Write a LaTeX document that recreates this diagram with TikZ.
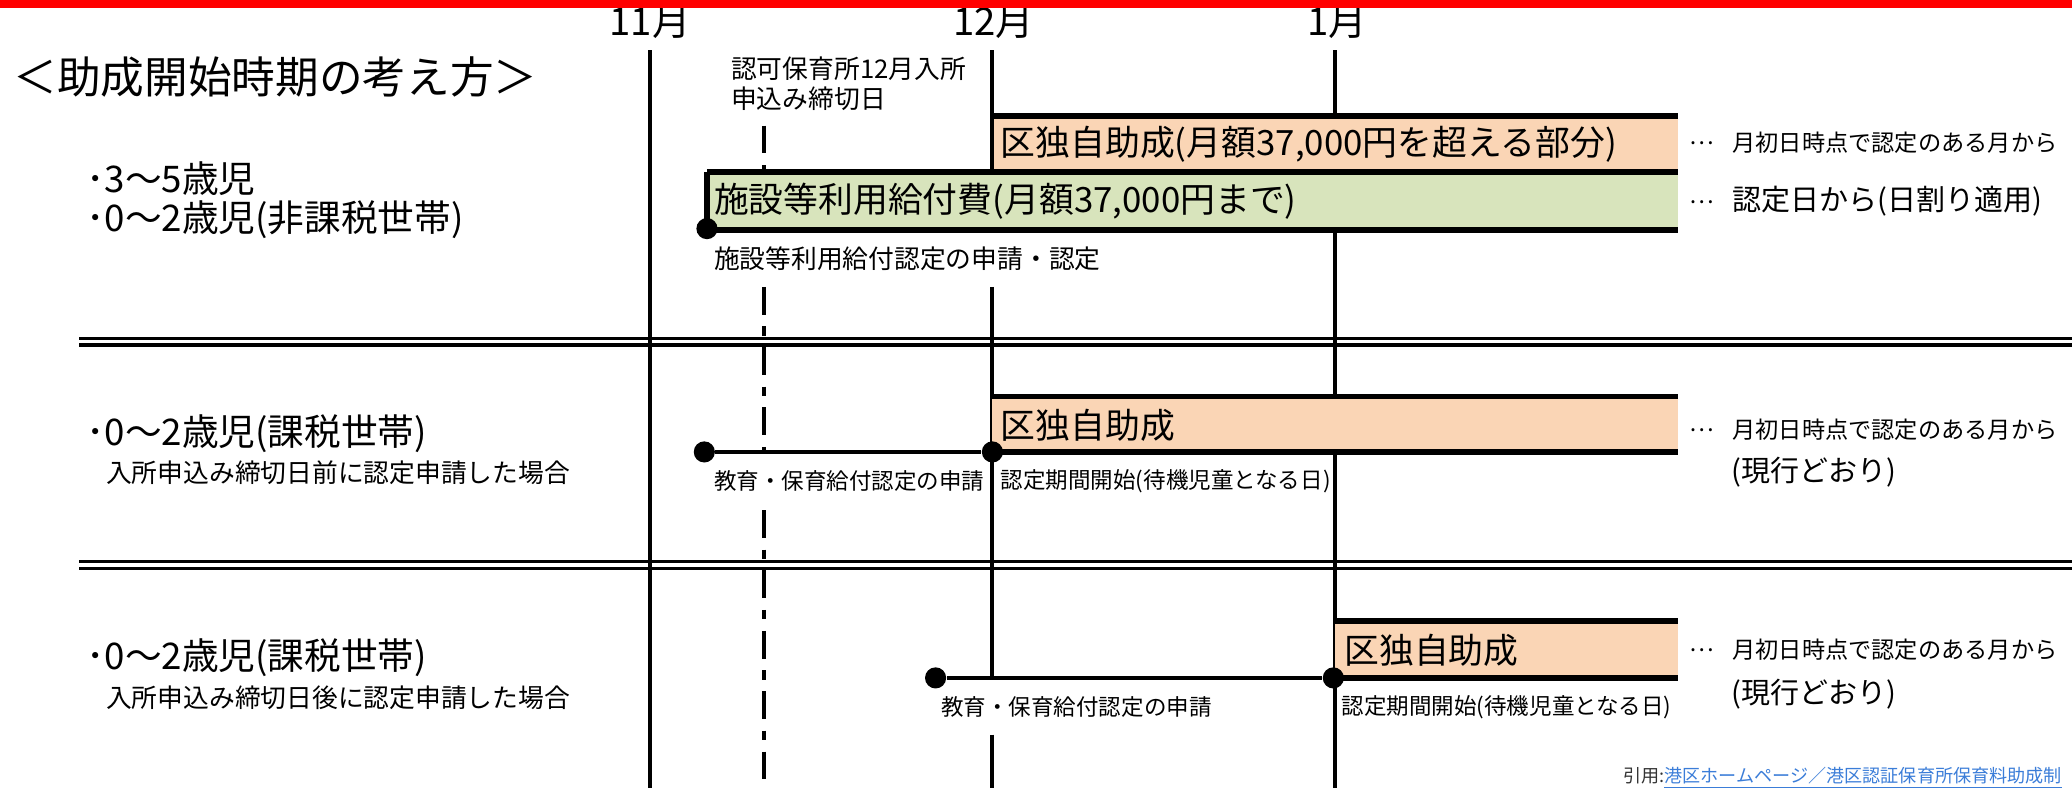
\documentclass[tikz,border=0pt]{standalone}
\usepackage{fontspec}
\setmainfont{Noto Sans CJK JP}
\definecolor{peach}{HTML}{FAD5B5}
\definecolor{sage}{HTML}{D8E4BC}
\definecolor{linkblue}{HTML}{3B7DD8}
\definecolor{citegray}{HTML}{333333}
\newcommand\fsTitle{\fontsize{18.8pt}{22pt}\selectfont}
\newcommand\fsMonth{\fontsize{16.5pt}{18pt}\selectfont}
\newcommand\fsLeft{\fontsize{15.8pt}{18pt}\selectfont}
\newcommand\fsSub{\fontsize{11.1pt}{13pt}\selectfont}
\newcommand\fsBox{\fontsize{15pt}{17pt}\selectfont}
\newcommand\fsLbl{\fontsize{11.1pt}{13pt}\selectfont}
\newcommand\fsLblS{\fontsize{9.7pt}{12pt}\selectfont}
\newcommand\fsAnnS{\fontsize{10pt}{12pt}\selectfont}
\newcommand\fsAnnB{\fontsize{12.5pt}{15pt}\selectfont}
\newcommand\fsCite{\fontsize{7.8pt}{9pt}\selectfont}
\newcommand\midell{\raisebox{0.3em}{…}}
\begin{document}
\begin{tikzpicture}[x=0.02cm,y=-0.02cm,
  vline/.style={line width=1.7pt},
  boxedge/.style={line width=2.5pt},
  hline/.style={line width=2pt},
  dline/.style={line width=1.4pt},
  deadline/.style={line width=1.7pt,dash pattern=on 12pt off 5pt on 4pt off 5pt},
  dot/.style={circle,fill=black,inner sep=0pt,minimum size=0.32cm},
  txt/.style={anchor=west,inner sep=0pt},
  month/.style={anchor=center,inner sep=0pt,font=\fsMonth}]
\useasboundingbox (0,0) rectangle (1568,596);
% ---- vertical month lines
\coordinate (a11) at (492,38); \coordinate (b11) at (492,596);
\draw[vline] (a11) -- (b11);
\coordinate (a12) at (751,38); \coordinate (c12) at (751,174);
\coordinate (d12) at (751,217); \coordinate (e12) at (751,513);
\coordinate (f12) at (751,556); \coordinate (b12) at (751,596);
\draw[vline] (a12) -- (c12) (d12) -- (e12) (f12) -- (b12);
\coordinate (a1) at (1010,38); \coordinate (b1) at (1010,596);
\draw[vline] (a1) -- (b1);
% ---- deadline (dash-dot)
\coordinate (ka) at (578,95); \coordinate (kb) at (578,174);
\coordinate (kc) at (578,217); \coordinate (kd) at (578,342);
\coordinate (ke) at (578,386); \coordinate (kf) at (578,596);
\draw[deadline] (ka) -- (kb) (kc) -- (kd) (ke) -- (kf);
% ---- section separators (double lines)
\draw[dline] (60,256) -- (1568,256);
\draw[dline] (60,261) -- (1568,261);
\draw[dline] (60,425) -- (1568,425);
\draw[dline] (60,430) -- (1568,430);
% ---- section 1 bars
\fill[peach] (751,88) rectangle (1270,130);
\fill[sage] (535,130) rectangle (1270,174);
\draw[boxedge] (751,88) -- (1270,88);
\draw[boxedge] (535,130) -- (1270,130);
\draw[boxedge] (535,174) -- (1270,174);
\draw[vline] (751,88) -- (751,130);
\draw[line width=2.2pt] (535,130) -- (535,174);
\node[dot] (p1) at (535,173) {};
% ---- section 2 bar
\fill[peach] (751,300) rectangle (1270,342);
\draw[boxedge] (751,300) -- (1270,300);
\draw[boxedge] (751,342) -- (1270,342);
\node[dot] (p2a) at (533,342) {};
\node[dot] (p2b) at (751,342) {};
\draw[hline] (p2a) -- (p2b);
% ---- section 3 bar
\fill[peach] (1010,470) rectangle (1270,513);
\draw[boxedge] (1010,470) -- (1270,470);
\draw[boxedge] (1010,513) -- (1270,513);
\node[dot] (p3a) at (708,513) {};
\node[dot] (p3b) at (1009,513) {};
\draw[hline] (p3a) -- (p3b);
% ---- month labels
\node[month] (m11) at (492,17) {11月};
\node[month] (m12) at (752,17) {12月};
\node[month] (m1) at (1012,17) {1月};
% ---- red top band
\fill[red] (0,0) rectangle (1568,6);
% ---- title and deadline note
\node[txt,font=\fsTitle] (title) at (10,58) {＜助成開始時期の考え方＞};
\node[txt,font=\fsLbl] (dl1) at (553,52) {認可保育所12月入所};
\node[txt,font=\fsLbl] (dl2) at (553,75) {申込み締切日};
% ---- section 1 texts
\node[txt,font=\fsLeft] (l1a) at (65,135) {･3～5歳児};
\node[txt,font=\fsLeft] (l1b) at (65,166) {･0～2歳児(非課税世帯)};
\node[txt,font=\fsBox] (t1a) at (757,109) {区独自助成(月額37,000円を超える部分)};
\node[txt,font=\fsBox] (t1b) at (540,152) {施設等利用給付費(月額37,000円まで)};
\node[txt,font=\fsLbl] (c1) at (540,196) {施設等利用給付認定の申請・認定};
\node[txt] (r1a) at (1278,108) {{\fsAnnS \midell}\hspace*{8pt}{\fsAnnS 月初日時点で認定のある月から}};
\node[txt] (r1b) at (1278,152) {{\fsAnnS \midell}\hspace*{8pt}{\fsAnnB 認定日から(日割り適用)}};
% ---- section 2 texts
\node[txt,font=\fsLeft] (l2a) at (65,328) {･0～2歳児(課税世帯)};
\node[txt,font=\fsSub] (l2b) at (80,358) {入所申込み締切日前に認定申請した場合};
\node[txt,font=\fsBox] (t2) at (757,322) {区独自助成};
\node[txt,font=\fsLblS] (c2a) at (540,364) {教育・保育給付認定の申請};
\node[txt,font=\fsLblS] (c2b) at (757,364) {認定期間開始(待機児童となる日)};
\node[txt] (r2a) at (1278,325) {{\fsAnnS \midell}\hspace*{8pt}{\fsAnnS 月初日時点で認定のある月から}};
\node[txt,font=\fsAnnB] (r2b) at (1310,357) {(現行どおり)};
% ---- section 3 texts
\node[txt,font=\fsLeft] (l3a) at (65,498) {･0～2歳児(課税世帯)};
\node[txt,font=\fsSub] (l3b) at (80,528) {入所申込み締切日後に認定申請した場合};
\node[txt,font=\fsBox] (t3) at (1017,492) {区独自助成};
\node[txt,font=\fsLblS] (c3a) at (712,535) {教育・保育給付認定の申請};
\node[txt,font=\fsLblS] (c3b) at (1015,535) {認定期間開始(待機児童となる日)};
\node[txt] (r3a) at (1278,492) {{\fsAnnS \midell}\hspace*{8pt}{\fsAnnS 月初日時点で認定のある月から}};
\node[txt,font=\fsAnnB] (r3b) at (1310,525) {(現行どおり)};
% ---- citation
\node[txt,font=\fsCite] (cite) at (1228,589) {\textcolor{citegray}{引用:}\textcolor{linkblue}{\underline{港区ホームページ／港区認証保育所保育料助成制}}};
\end{tikzpicture}
\end{document}
